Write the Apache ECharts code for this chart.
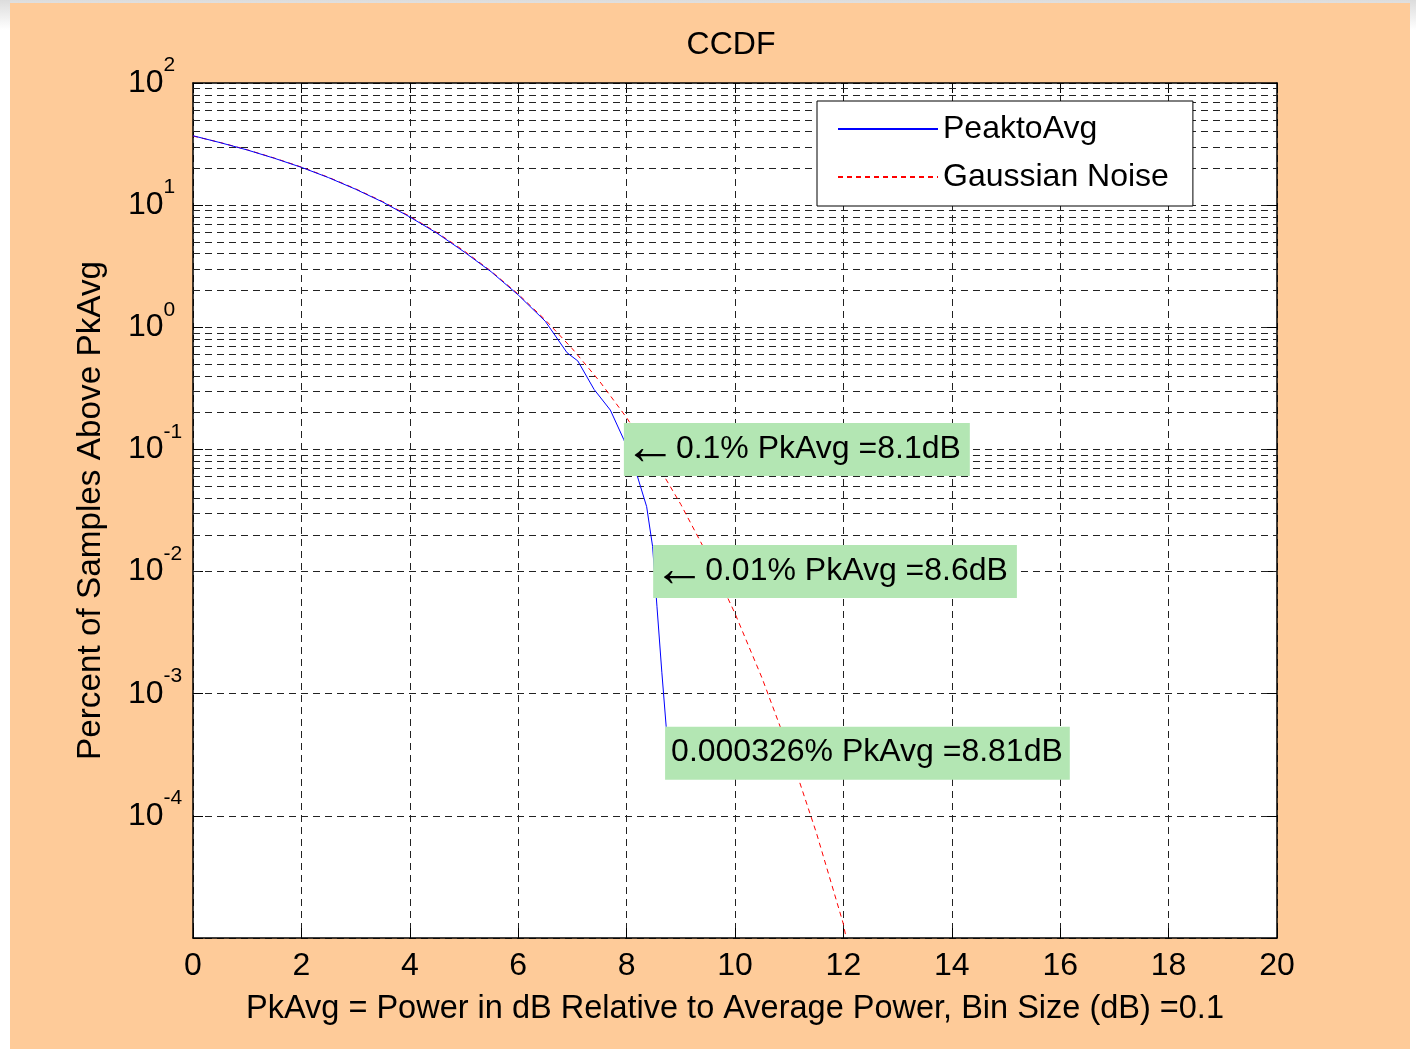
<!DOCTYPE html>
<html><head><meta charset="utf-8">
<script src="https://cdn.jsdelivr.net/npm/echarts@6/dist/echarts.min.js"></script>
<style>
html,body{margin:0;padding:0;width:1416px;height:1049px;overflow:hidden;background:#ffffff;}
#bgtop{position:absolute;left:0;top:0;width:1416px;height:30px;background:linear-gradient(#dcdcdc,#ffffff);}
#chart{position:absolute;left:10px;top:3px;width:1400px;height:1046px;}
</style></head><body>
<div id="bgtop"></div>
<div id="chart"></div>
<script>
const titleText = 'CCDF';
const xAxisName = 'PkAvg = Power in dB Relative to Average Power, Bin Size (dB) =0.1';
const yAxisName = 'Percent of Samples Above PkAvg';
const seriesNames = ['PeaktoAvg', 'Gaussian Noise'];
const xMin = 0, xMax = 20, xStep = 2;
const yMin = 1e-5, yMax = 100;
const minorMultipliers = [2, 3, 4, 5, 6, 7, 8, 9];
const decadeExps = [-5, -4, -3, -2, -1, 0, 1];

const blueX = [0, 0.5, 1, 1.5, 2, 2.5, 3, 3.5, 4, 4.5, 5, 5.5, 6, 6.5, 6.9, 7.1, 7.4, 7.7, 7.95, 8.2, 8.37, 8.48, 8.56, 8.65, 8.73, 8.81];
const blueY = [37.0, 32.5, 28.3, 24.2, 20.4, 16.8, 13.5, 10.6, 8.0, 5.9, 4.15, 2.85, 1.84, 1.12, 0.62, 0.53, 0.31, 0.21, 0.12, 0.06, 0.034, 0.016, 0.0052, 0.0015, 0.00054, 0.000326];

const redX = [0, 0.5, 1, 1.5, 2, 2.5, 3, 3.5, 4, 4.5, 5, 5.5, 6, 6.5, 7, 7.5, 8, 8.5, 9, 9.5, 10, 10.5, 11, 11.5, 12, 12.05];
const redY = [36.8, 32.6, 28.4, 24.3, 20.5, 16.9, 13.6, 10.7, 8.1, 5.97, 4.23, 2.88, 1.87, 1.15, 0.666, 0.362, 0.182, 0.0843, 0.0355, 0.0135, 0.00454, 0.00134, 0.000341, 0.000073, 0.000013, 0.00001];

const annotX = [7.95, 8.49, 8.71];
const annotY = [0.1, 0.01, 0.000326];
const annotArrow = [true, true, false];
const annotText = ['0.1% PkAvg =8.1dB', '0.01% PkAvg =8.6dB', '0.000326% PkAvg =8.81dB'];

const FONT = 'Liberation Sans, Arial, Helvetica, sans-serif';
const GRID_COLOR = '#222222';
const DASH = [7, 5];

const minorValues = [];
decadeExps.forEach(e => minorMultipliers.forEach(m => minorValues.push(m * Math.pow(10, e))));

const chart = echarts.init(document.getElementById('chart'), null, {renderer: 'canvas'});
const option = {
  animation: false,
  backgroundColor: '#FECB99',
  title: {
    text: titleText, left: 716, top: 21, textAlign: 'center',
    textStyle: {fontFamily: FONT, fontSize: 32, fontWeight: 'normal', color: '#000'}
  },
  legend: {
    orient: 'vertical', left: 807, top: 98,
    backgroundColor: '#ffffff', borderColor: '#000', borderWidth: 1,
    padding: [12, 24, 13, 20], itemWidth: 100, itemHeight: 2, itemGap: 16, itemTextGap: 18,
    itemStyle: {opacity: 0, borderWidth: 0},
    textStyle: {fontFamily: FONT, fontSize: 32, color: '#000'},
    data: seriesNames
  },
  grid: {left: 183, top: 80, right: 133, bottom: 111, containLabel: false, backgroundColor: '#fff', show: true, borderWidth: 0},
  xAxis: [{
    type: 'value', min: xMin, max: xMax, interval: xStep, position: 'bottom',
    name: xAxisName, nameLocation: 'middle', nameGap: 55,
    nameTextStyle: {fontFamily: FONT, fontSize: 32.5, color: '#000'},
    axisLine: {show: true, onZero: false, lineStyle: {color: '#000', width: 1.5}},
    axisTick: {show: true, inside: true, length: 10, lineStyle: {color: '#000'}},
    axisLabel: {fontFamily: FONT, fontSize: 32, color: '#000', margin: 12},
    splitLine: {show: true, lineStyle: {color: GRID_COLOR, type: DASH, width: 1}}
  }, {
    type: 'value', min: xMin, max: xMax, interval: xStep, position: 'top',
    axisLine: {show: true, onZero: false, lineStyle: {color: '#000', width: 1.5}},
    axisTick: {show: true, inside: true, length: 10, lineStyle: {color: '#000'}},
    axisLabel: {show: false}, splitLine: {show: false}
  }],
  yAxis: [{
    type: 'log', logBase: 10, min: yMin, max: yMax, splitNumber: 7, position: 'left',
    name: yAxisName, nameLocation: 'middle', nameGap: 86, nameRotate: 90,
    nameTextStyle: {fontFamily: FONT, fontSize: 33.3, color: '#000'},
    axisLine: {show: true, onZero: false, lineStyle: {color: '#000', width: 1.5}},
    axisTick: {show: true, inside: true, length: 10, lineStyle: {color: '#000'}},
    axisLabel: {
      align: 'left', margin: 65,
      formatter: v => { const e = Math.round(Math.log10(v)); return e === -5 ? '' : '{b|10}{s|' + e + '}'; },
      rich: {
        b: {fontFamily: FONT, fontSize: 32, color: '#000', lineHeight: 56, verticalAlign: 'middle'},
        s: {fontFamily: FONT, fontSize: 21, color: '#000', lineHeight: 24, verticalAlign: 'top'}
      }
    },
    splitLine: {show: true, lineStyle: {color: GRID_COLOR, type: DASH, width: 1}}
  }, {
    type: 'log', logBase: 10, min: yMin, max: yMax, splitNumber: 7, position: 'right',
    axisLine: {show: true, onZero: false, lineStyle: {color: '#000', width: 1.5}},
    axisTick: {show: true, inside: true, length: 10, lineStyle: {color: '#000'}},
    axisLabel: {show: false}, splitLine: {show: false}
  }],
  series: [{
    name: seriesNames[0], type: 'line', xAxisIndex: 0, yAxisIndex: 0,
    data: blueX.map((x, i) => [x, blueY[i]]),
    symbol: 'none', smooth: false, z: 3,
    lineStyle: {color: '#0000FF', width: 1},
    itemStyle: {color: '#0000FF'},
    markPoint: {
      z: 10, silent: true, symbol: 'rect', symbolSize: 0,
      data: annotX.map((x, i) => ({
        coord: [x, annotY[i]], value: i,
        label: {padding: annotArrow[i] ? [7, 9, 8, 0] : [7, 7, 8, 6]}
      })),
      label: {
        show: true, position: 'right', distance: 0,
        formatter: p => (annotArrow[p.value] ? '{a|\u2190}' : '') + annotText[p.value],
        backgroundColor: '#B3E6B3', color: '#000', fontFamily: FONT, fontSize: 32,
        lineHeight: 38, padding: [7, 7, 8, 6],
        rich: {
          a: {fontFamily: FONT, fontSize: 52, color: '#000', lineHeight: 38, width: 52, padding: [1, 0, 0, 0]}
        }
      }
    }
  }, {
    name: seriesNames[1], type: 'line', xAxisIndex: 0, yAxisIndex: 0,
    data: redX.map((x, i) => [x, redY[i]]),
    symbol: 'none', smooth: false, z: 2,
    lineStyle: {color: '#FF0000', width: 1, type: [5, 4]},
    itemStyle: {color: '#FF0000'},
    markLine: {
      z: 1, silent: true, symbol: ['none', 'none'], label: {show: false},
      lineStyle: {color: GRID_COLOR, type: DASH, width: 1},
      emphasis: {disabled: true},
      data: minorValues.map(v => ({yAxis: v}))
    }
  }]
};
chart.setOption(option);
</script>
</body></html>
